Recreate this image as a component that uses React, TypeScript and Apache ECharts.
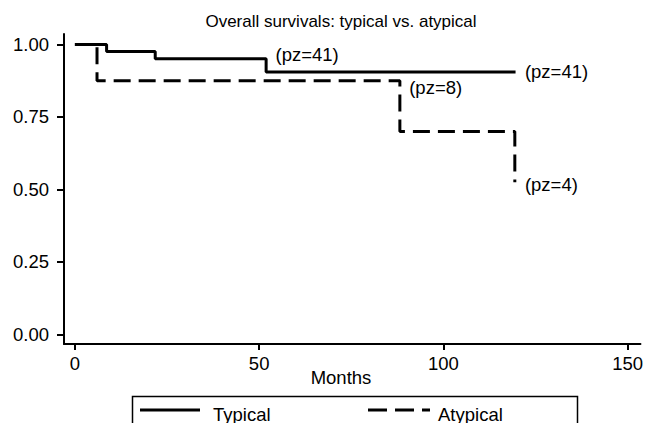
import React, { useEffect, useRef } from "react";
import * as echarts from "echarts";

const titleText = "Overall survivals: typical vs. atypical";
const xAxisTitle = "Months";
const xTicks = [0, 50, 100, 150];
const yTicks = [0, 0.25, 0.5, 0.75, 1];

const typicalData: [number, number][] = [
  [0, 1.0],
  [8.6, 0.976],
  [21.8, 0.951],
  [51.9, 0.905],
  [119.6, 0.905],
];
const atypicalData: [number, number][] = [
  [0, 1.0],
  [6.0, 0.875],
  [88.2, 0.7],
  [119.4, 0.525],
];

const annotations: { x: number; y: number; text: string }[] = [
  { x: 54.3, y: 0.964, text: "(pz=41)" },
  { x: 122, y: 0.905, text: "(pz=41)" },
  { x: 90.6, y: 0.853, text: "(pz=8)" },
  { x: 122, y: 0.518, text: "(pz=4)" },
];

const legendNames = ["Typical", "Atypical"];

const FONT = "'Liberation Sans', Arial, Helvetica, sans-serif";
const FS = 18.5;

export default function App() {
  const ref = useRef<HTMLDivElement>(null);
  useEffect(() => {
    document.body.style.margin = "0";
    if (!ref.current) return;
    const chart = echarts.init(ref.current, undefined, { renderer: "svg" });
    chart.setOption({
      animation: false,
      backgroundColor: "#fff",
      textStyle: { fontFamily: FONT, color: "#000" },
      title: {
        text: titleText,
        left: 341,
        top: 13,
        textAlign: "center",
        padding: 0,
        textStyle: { fontSize: 17, fontWeight: "normal", color: "#000", fontFamily: FONT },
      },
      grid: { left: 64, right: 0, top: 34, bottom: 79 },
      xAxis: {
        type: "value",
        min: -2.96,
        max: 153.5,
        splitLine: { show: false },
        axisLine: { show: true, onZero: false, lineStyle: { color: "#000", width: 2 } },
        axisTick: { show: true, customValues: xTicks, length: 6, lineStyle: { color: "#000", width: 2 } },
        axisLabel: { customValues: xTicks, margin: 10, fontSize: FS, color: "#000", fontFamily: FONT },
      },
      yAxis: {
        type: "value",
        min: -0.033,
        max: 1.036,
        splitLine: { show: false },
        axisLine: { show: true, onZero: false, lineStyle: { color: "#000", width: 2 } },
        axisTick: { show: true, customValues: yTicks, length: 7, lineStyle: { color: "#000", width: 2 } },
        axisLabel: {
          customValues: yTicks,
          margin: 15,
          fontSize: FS,
          color: "#000",
          fontFamily: FONT,
          formatter: (v: number) => v.toFixed(2),
        },
      },
      graphic: [
        {
          type: "rect",
          shape: { x: 132.5, y: 396.5, width: 445, height: 40 },
          style: { fill: "none", stroke: "#000", lineWidth: 1.5 },
        },
        {
          type: "line",
          shape: { x1: 140, y1: 410, x2: 200, y2: 410 },
          style: { stroke: "#000", lineWidth: 3 },
        },
        {
          type: "text",
          x: 213,
          y: 414,
          style: { text: legendNames[0], fontSize: FS, fontFamily: FONT, fill: "#000", textVerticalAlign: "middle" },
        },
        {
          type: "line",
          shape: { x1: 368, y1: 410, x2: 430, y2: 410 },
          style: { stroke: "#000", lineWidth: 3, lineDash: [19, 8] },
        },
        {
          type: "text",
          x: 438,
          y: 414,
          style: { text: legendNames[1], fontSize: FS, fontFamily: FONT, fill: "#000", textVerticalAlign: "middle" },
        },
        {
          type: "text",
          x: 341,
          y: 377,
          style: {
            text: xAxisTitle,
            fontSize: FS,
            fontFamily: FONT,
            fill: "#000",
            textAlign: "center",
            textVerticalAlign: "middle",
          },
        },
      ],
      series: [
        {
          name: legendNames[0],
          type: "line",
          step: "end",
          symbol: "none",
          data: typicalData,
          lineStyle: { color: "#000", width: 3 },
          itemStyle: { color: "#000" },
          z: 3,
        },
        {
          name: legendNames[1],
          type: "line",
          step: "end",
          symbol: "none",
          data: atypicalData,
          lineStyle: { color: "#000", width: 3, type: [17, 8] },
          itemStyle: { color: "#000" },
          z: 2,
        },
        {
          name: "notes",
          type: "scatter",
          symbolSize: 1,
          itemStyle: { color: "rgba(0,0,0,0)" },
          data: annotations.map((a) => ({ value: [a.x, a.y], name: a.text })),
          label: {
            show: true,
            position: "right",
            distance: 0,
            formatter: (p: any) => p.name,
            fontSize: FS,
            color: "#000",
            opacity: 1,
            fontFamily: FONT,
          },
          silent: true,
        },
      ],
    });
    return () => chart.dispose();
  }, []);
  return <div ref={ref} style={{ width: 646, height: 423 }} />;
}
